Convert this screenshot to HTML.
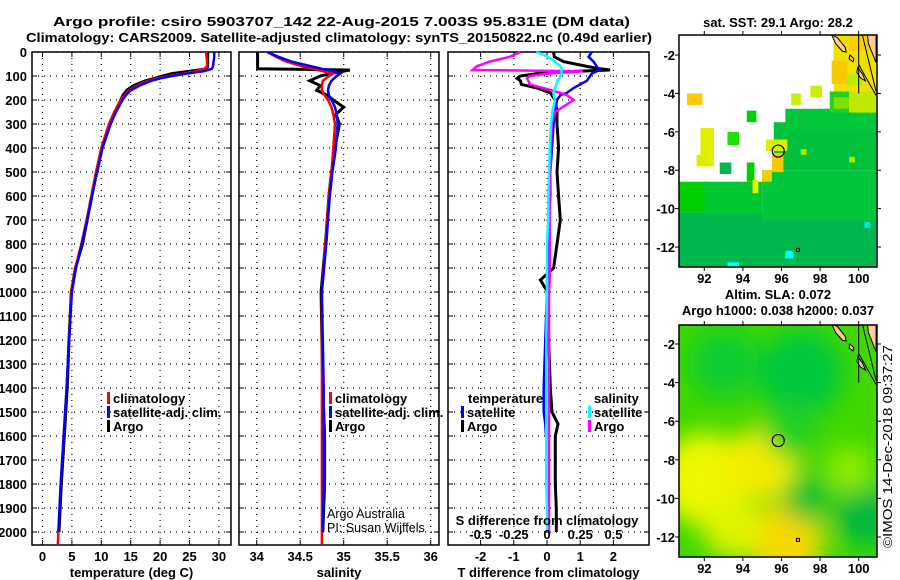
<!DOCTYPE html>
<html><head><meta charset="utf-8"><style>
html,body{margin:0;padding:0;background:#fff;width:900px;height:580px;overflow:hidden}
svg{display:block;font-family:"Liberation Sans",sans-serif}
.b{font-weight:bold;font-size:13px}
</style></head><body>
<svg id="chart" width="900" height="580" viewBox="0 0 900 580">
<text x="53" y="26" class="b" font-size="14.5" textLength="577" lengthAdjust="spacingAndGlyphs">Argo profile: csiro 5903707_142 22-Aug-2015 7.003S 95.831E (DM data)</text>
<text x="26" y="42" class="b" font-size="14.5" textLength="626" lengthAdjust="spacingAndGlyphs">Climatology: CARS2009. Satellite-adjusted climatology: synTS_20150822.nc (0.49d earlier)</text>
<g id="g"></g>
<text transform="translate(892,548) rotate(-90)" font-size="13" textLength="203" lengthAdjust="spacingAndGlyphs">©IMOS 14-Dec-2018 09:37:27</text>
</svg>
<script>
// ---- data ----
const depths=[0,20,40,60,70,80,90,100,110,120,140,160,180,200,250,300,400,500,600,700,800,900,1000,1200,1400,1600,1800,2000,2050];
const tempClim=[27.8,27.9,28,28,27.5,26,24,21.5,19.5,18,16,14.8,14,13.3,12.2,11.3,10,9.1,8.3,7.5,6.6,5.6,4.9,4.5,4.1,3.6,3.1,2.7,2.6];
const tempSat=[29.2,29.2,29.1,29,28.8,27.5,24.5,22,20,18.5,16.5,15,14.2,13.6,12.5,11.6,10.2,9.3,8.4,7.6,6.7,5.7,5.0,4.5,4.1,3.6,3.1,2.7,null];
const tempArgo=[28.1,28.1,28.1,28.1,27.9,25,22,20.5,19,17.5,15.5,14.3,13.7,13.3,12.3,11.5,10.1,9.2,8.4,7.6,6.8,5.6,4.9,4.5,4.2,3.7,3.2,2.8,null];
const salDepths=[0,20,40,60,70,75,80,90,100,120,140,160,180,200,230,260,300,400,500,600,700,800,1000,1200,1400,1600,1800,2000,2050];
const salArgo=[34.01,34.01,34.01,34.01,34.01,35.07,35.0,34.85,34.73,34.61,34.73,34.69,34.81,34.88,35.0,34.91,34.95,34.9,34.86,34.83,34.81,34.79,34.74,34.75,34.76,34.78,34.78,34.76,null];
const salClim=[34.13,34.22,34.34,34.53,34.65,34.7,34.76,34.88,34.83,34.76,34.75,34.75,34.78,34.82,34.86,34.88,34.9,34.88,34.86,34.83,34.81,34.79,34.75,34.75,34.75,34.75,34.75,34.75,34.75];
const salSat=[34.12,34.25,34.4,34.63,34.75,34.82,34.88,34.96,34.92,34.86,34.83,34.82,34.83,34.86,34.9,34.92,34.93,34.91,34.87,34.84,34.82,34.8,34.75,34.76,34.77,34.77,34.77,34.76,null];
const diffDepths=[0,20,40,60,70,75,80,90,100,110,120,135,150,170,180,200,250,300,400,500,600,700,800,900,950,1000,1200,1400,1500,1550,1600,1700,1800,1900,2000];
const tDiffArgo=[0.2,0.22,0.5,1.2,1.6,1.9,0.9,-0.3,-0.8,-0.9,-0.8,-0.77,-0.3,0.1,0.15,0.24,0.3,0.3,0.35,0.3,0.35,0.4,0.3,0.2,-0.2,0.02,0.05,0.1,0.15,0.33,0.25,0.25,0.25,0.28,0.28];
const tDiffSat=[1.35,1.25,1.4,1.5,1.55,1.6,1.5,1.35,1.3,1.25,1.2,1.0,0.8,0.6,0.4,0.3,0.25,0.2,0.15,0.1,0.1,0.05,0.05,0.05,0.0,0.0,-0.05,-0.1,-0.1,-0.05,-0.03,null,null,null,null];
const sDiffArgo=[-0.2,-0.28,-0.43,-0.53,-0.55,-0.56,0.27,0.0,-0.13,-0.15,-0.14,-0.13,-0.03,0.1,0.15,0.2,0.06,0.035,0.03,0.025,0.02,0.02,0.02,0.02,0.02,0.015,0.015,0.015,0.015,0.015,0.015,0.015,0.015,0.015,0.015];
const sDiffSat=[-0.08,0.01,0.06,0.1,0.11,0.11,0.11,0.11,0.1,0.09,0.08,0.07,0.06,0.05,0.05,0.06,0.04,0.03,0.02,0.015,0.01,0.01,0.0,0.0,0.0,0.0,-0.005,-0.005,-0.005,-0.005,-0.005,-0.005,-0.005,0.0,0.0];
const depthTicks=[0,100,200,300,400,500,600,700,800,900,1000,1100,1200,1300,1400,1500,1600,1700,1800,1900,2000];
const tempTicks=[0,5,10,15,20,25,30];
const salTicks=[34,34.5,35,35.5,36];
const tDiffTicks=[-2,-1,0,1,2];
const sDiffTicks=[-0.5,-0.25,0,0.25,0.5];
const sDiffLabels=["-0.5","-0.25","0","0.25","0.5"];
const lonTicks=[92,94,96,98,100];
const latTicks=[-2,-4,-6,-8,-10,-12];
const argoLon=95.831, argoLat=-7.003;
// SST patches [lon0,lat0,lon1,lat1,color]
const sstPatches=[[90.7,-13.1,100.9,-10.2,"#00b84e"],[90.7,-10.2,92.2,-8.6,"#00d000"],[92,-10.3,95,-8.6,"#00c830"],[95,-10.6,100.9,-8,"#00c63a"],[95.6,-8,100.9,-5.5,"#00c03c"],[96.2,-6,100.9,-4.8,"#00c83a"],[98.5,-5,100.9,-3.9,"#20d020"],[98.7,-4.8,100.4,-4.2,"#80e000"],[99.5,-5,100.9,-3.8,"#c0e800"],[98.7,-3.9,100.9,-1,"#f0e000"],[99.3,-3.6,100.2,-3.0,"#b8f000"],[98.6,-3.5,99.4,-2.3,"#f8c800"],[99.5,-1.8,100.9,-1,"#f8d000"],[97.5,-4.2,98.1,-3.6,"#c8f000"],[91.1,-4.6,91.9,-4.0,"#ffc800"],[95.5,-8.1,96.1,-7.1,"#f8c800"],[95.2,-7,96.3,-6.4,"#d8f000"],[91.8,-7.8,92.5,-5.8,"#e0f000"],[91.6,-7.8,92.2,-7.2,"#d8f000"],[91.1,-8.6,92,-9.3,"#a0f000"],[93.2,-6.7,93.8,-6.0,"#20e000"],[94.2,-5.5,94.7,-4.9,"#00d000"],[92.8,-8.2,93.4,-7.6,"#00b850"],[94.2,-8.6,94.6,-7.6,"#00d000"],[95,-8.6,95.5,-8.0,"#f8d000"],[96.5,-4.6,97,-4,"#c8f000"],[94.5,-9.2,94.8,-8.5,"#e8f000"],[97,-7.2,97.3,-6.9,"#a8f000"],[99.5,-7.6,99.8,-7.3,"#a8f000"],[100.3,-11,100.6,-10.7,"#00e8e8"],[93.2,-13.1,93.8,-12.8,"#00ffff"],[96.2,-12.6,96.6,-12.2,"#00ffff"]];
// SLA blobs [lon,lat,radiusDeg,color]
const slaBlobs=[[92,-9,2.4,"#eef800"],[95,-8.2,1.9,"#f4ec00"],[96.2,-12.2,2,"#f8d800"],[93.5,-11.5,1.6,"#e0f400"],[97,-3.5,2.2,"#00c83c"],[93,-3,1.8,"#10cc30"],[97.3,-10,1.2,"#00c030"],[100.3,-11,1.5,"#00b840"],[99.5,-8.5,1.2,"#90ec00"],[96.5,-6.5,1.4,"#20d020"]];
const coast=[[[98.6,-0.95],[98.9,-1.1],[99.3,-1.6],[99.35,-1.85],[99.15,-1.8],[98.8,-1.4]],[[99.55,-2.0],[99.75,-2.2],[99.7,-2.35],[99.5,-2.2]],[[99.95,-2.65],[100.2,-3.0],[100.35,-3.35],[100.1,-3.2],[99.9,-2.9]],[[100.45,-0.9],[100.9,-0.9],[100.9,-2.4],[100.7,-1.9],[100.5,-1.4]]];

const NS='http://www.w3.org/2000/svg';
const G=document.getElementById('g');
function mk(tag,attrs,parent,text){const e=document.createElementNS(NS,tag);for(const k in attrs)e.setAttribute(k,attrs[k]);if(text!==undefined)e.textContent=text;(parent||G).appendChild(e);return e;}

const Y0=52, PX100=24;
function yD(d){return Y0+d*PX100/100;}
const panels=[
 {x0:32,x1:231,v0:0,px0:42.5,k:5.88,ticks:tempTicks,labels:tempTicks.map(String),title:"temperature (deg C)",name:"temperature"},
 {x0:239,x1:439,v0:34,px0:256.7,k:87,ticks:salTicks,labels:salTicks.map(String),title:"salinity",name:"salinity"},
 {x0:448,x1:649,v0:0,px0:547,k:33.2,ticks:tDiffTicks,labels:tDiffTicks.map(String),title:"T difference from climatology",name:"difference"}];
const YB=545;
panels.forEach(function(p){
 const xs=function(v){return p.px0+(v-p.v0)*p.k;};
 p.xs=xs;
 const g=mk('g',{});
 
 
 depthTicks.forEach(function(d){const y=yD(d);
  const l=mk('line',{x1:p.x0,x2:p.x1,y1:y,y2:y,stroke:'#000','stroke-width':1.2,'stroke-dasharray':'1 5'},g);
  
  mk('line',{x1:p.x0,x2:p.x0+5,y1:y,y2:y,stroke:'#000'},g);mk('line',{x1:p.x1,x2:p.x1-5,y1:y,y2:y,stroke:'#000'},g);});
 p.ticks.forEach(function(v,i){const x=xs(v);
  const l=mk('line',{x1:x,x2:x,y1:Y0,y2:YB,stroke:'#000','stroke-width':1.2,'stroke-dasharray':'1 5'},g);
  
  mk('line',{x1:x,x2:x,y1:YB,y2:YB-5,stroke:'#000'},g);mk('line',{x1:x,x2:x,y1:Y0,y2:Y0+5,stroke:'#000'},g);
  const t=mk('text',{x:x,y:561,'text-anchor':'middle',class:'b','font-size':'14'},g,p.labels[i]);
  });
 const r=mk('rect',{x:p.x0,y:Y0,width:p.x1-p.x0,height:YB-Y0,fill:'none',stroke:'#000','stroke-width':1.5},g);
 
 const tt=mk('text',{x:(p.x0+p.x1)/2,y:577,'text-anchor':'middle',class:'b','font-size':'14'},g,p.title);
 
});
depthTicks.forEach(function(d){
 const t=mk('text',{x:27,y:yD(d)+5,'text-anchor':'end',class:'b','font-size':'14'},G,String(d));
 });
function line(xs,vals,dps,color,name,w){
 let pts=[],segs=[];
 vals.forEach(function(v,i){if(v===null){if(pts.length)segs.push(pts);pts=[];}else pts.push(xs(v).toFixed(1)+','+yD(dps[i]).toFixed(1));});
 if(pts.length)segs.push(pts);
 segs.forEach(function(s){const pl=mk('polyline',{points:s.join(' '),fill:'none',stroke:color,'stroke-width':w||2.5,'stroke-linejoin':'miter'});
  });
}
const P=panels;
line(P[0].xs,tempArgo,depths,'#000','temp-argo-line',3);
line(P[0].xs,tempClim,depths,'#f00','temp-climatology-line');
line(P[0].xs,tempSat,depths,'#00f','temp-satellite-line');
line(P[1].xs,salArgo,salDepths,'#000','sal-argo-line',3);
line(P[1].xs,salClim,salDepths,'#f00','sal-climatology-line');
line(P[1].xs,salSat,salDepths,'#00f','sal-satellite-line');
const sxs=function(v){return 547+v*133;};
line(P[2].xs,tDiffArgo,diffDepths,'#000','tdiff-argo-line',3);
line(P[2].xs,tDiffSat,diffDepths,'#00f','tdiff-satellite-line');
line(sxs,sDiffArgo,diffDepths,'#f0f','sdiff-argo-line');
line(sxs,sDiffSat,diffDepths,'#0ff','sdiff-satellite-line');
// legends
function leg(x,y,color,label,name){const g=mk('g',{});
 
 mk('rect',{x:x,y:y-11,width:3,height:12,fill:color},g);
 mk('text',{x:x+6,y:y,class:'b','font-size':'13.5'},g,label);}
leg(107,403,'#f00','climatology','legend-climatology');
leg(107,417,'#00f','satellite-adj. clim.','legend-satellite-adj');
leg(107,431,'#000','Argo','legend-argo');
leg(329,403,'#f00','climatology','legend-climatology-sal');
leg(329,417,'#00f','satellite-adj. clim.','legend-satellite-adj-sal');
leg(329,431,'#000','Argo','legend-argo-sal');
mk('text',{x:468,y:403,class:'b','font-size':'13.5'},G,'temperature');
leg(461,417,'#00f','satellite','legend-t-satellite');
leg(461,431,'#000','Argo','legend-t-argo');
mk('text',{x:594,y:403,class:'b','font-size':'13.5'},G,'salinity');
leg(588,417,'#0ff','satellite','legend-s-satellite');
leg(588,431,'#f0f','Argo','legend-s-argo');
mk('text',{x:327,y:518,'font-size':'12.5'},G,'Argo Australia');
mk('text',{x:327,y:532,'font-size':'12.5'},G,'PI: Susan Wijffels');
const st=mk('text',{x:547,y:525,'text-anchor':'middle',class:'b','font-size':'13.5'},G,'S difference from climatology');

sDiffTicks.forEach(function(v,i){const t=mk('text',{x:sxs(v),y:539,'text-anchor':'middle',class:'b','font-size':'13.5'},G,sDiffLabels[i]);
 });
// maps
function map(top,bot,latTop,kLat,lat2y,id,title1,title2,kind){
 const L=679,R=877;
 const X=function(lon){return 704.3+(lon-92)*19.3;};
 const Yl=function(lat){return lat2y+(-2-lat)*kLat;};
 const g=mk('g',{});
 
 const defs=mk('defs',{},g);
 const cp=mk('clipPath',{id:'clip'+id},defs);mk('rect',{x:L,y:top,width:R-L,height:bot-top},cp);
 const f=mk('filter',{id:'blur'+id,x:'-50%',y:'-50%',width:'200%',height:'200%'},defs);mk('feGaussianBlur',{stdDeviation:12},f);
 const inner=mk('g',{'clip-path':'url(#clip'+id+')'},g);
 if(kind==='sst'){
  sstPatches.forEach(function(p){const r=mk('rect',{x:X(p[0]),y:Yl(p[3]),width:X(p[2])-X(p[0]),height:Yl(p[1])-Yl(p[3]),fill:p[4]},inner);
   });
 } else {
  mk('rect',{x:L,y:top,width:R-L,height:bot-top,fill:'#40d800'},inner);
  const bg=mk('g',{filter:'url(#blur'+id+')'},inner);
  slaBlobs.forEach(function(b){const c=mk('circle',{cx:X(b[0]),cy:Yl(b[1]),r:b[2]*19.3,fill:b[3]},bg);
   });
 }
 coast.forEach(function(poly){mk('polygon',{points:poly.map(function(q){return X(q[0])+','+Yl(q[1]);}).join(' '),fill:'#ffcc99',stroke:'#000','stroke-width':1},inner);});
 mk('line',{x1:X(100),x2:X(100),y1:top,y2:Yl(-4),stroke:'#000','stroke-width':1},inner);
 mk('line',{x1:X(100.2),x2:X(100.9),y1:Yl(-1.0),y2:Yl(-3.9),stroke:'#000','stroke-width':1},inner);
 mk('line',{x1:X(100.0),x2:X(100.9),y1:Yl(-2.5),y2:Yl(-4.1),stroke:'#000','stroke-width':1},inner);
 const c=mk('circle',{cx:X(argoLon),cy:Yl(argoLat),r:6,fill:'none',stroke:'#000','stroke-width':1.2},g);
 
 mk('rect',{x:X(96.85)-1.5,y:Yl(-12.15)-1.5,width:3,height:3,fill:'none',stroke:'#000','stroke-width':1},g);
 mk('rect',{x:L,y:top,width:R-L,height:bot-top,fill:'none',stroke:'#000','stroke-width':1.5},g);
 lonTicks.forEach(function(v){const x=X(v);mk('line',{x1:x,x2:x,y1:bot,y2:bot+4,stroke:'#000'},g);mk('line',{x1:x,x2:x,y1:top,y2:top-4,stroke:'#000'},g);
  const t=mk('text',{x:x,y:bot+16,'text-anchor':'middle',class:'b','font-size':'13.5'},g,String(v));
  });
 latTicks.forEach(function(v){const y=Yl(v);mk('line',{x1:L,x2:L-4,y1:y,y2:y,stroke:'#000'},g);mk('line',{x1:R,x2:R+4,y1:y,y2:y,stroke:'#000'},g);
  const t=mk('text',{x:675,y:y+5,'text-anchor':'end',class:'b','font-size':'13.5'},g,String(v));
  });
 const t1=mk('text',{x:778,y:title2?top-26:top-8,'text-anchor':'middle',class:'b','font-size':'13'},g,title1);
 
 if(title2){const t2=mk('text',{x:778,y:top-10,'text-anchor':'middle',class:'b','font-size':'13'},g,title2);
  }
}
map(35,267,-0.9,19.2,55,'sst-map','sat. SST: 29.1 Argo: 28.2',null,'sst');
map(325,557,-0.9,19.3,344,'sla-map','Altim. SLA: 0.072','Argo h1000: 0.038 h2000: 0.037','sla');
</script>
</body></html>
